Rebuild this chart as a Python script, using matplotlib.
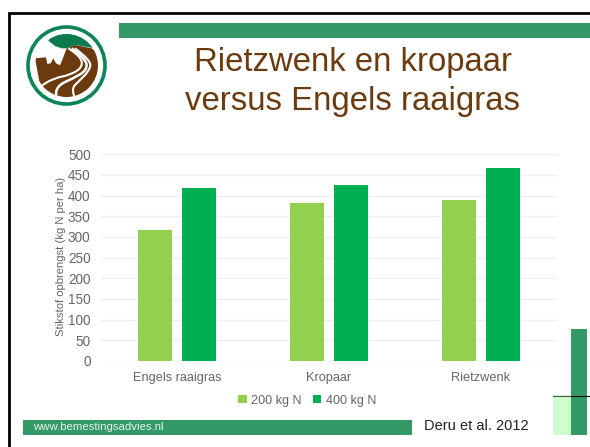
import numpy as np
import matplotlib
matplotlib.use("Agg")
import matplotlib.pyplot as plt
from matplotlib.patches import Circle, PathPatch, Polygon, Rectangle
from matplotlib.path import Path

W, H = 590, 447

categories = ["Engels raaigras", "Kropaar", "Rietzwenk"]
n200 = [318, 383, 390]
n400 = [418, 426, 468]
y_ticks = [0, 50, 100, 150, 200, 250, 300, 350, 400, 450, 500]
series_names = ["200 kg N", "400 kg N"]

plt.rcParams["font.family"] = ["Liberation Sans", "DejaVu Sans"]

LIGHT = "#92d050"
DARK = "#00b050"
BANNER = "#339966"
BROWN = "#6b3a0e"
GREY = "#666666"
LOGO_GREEN = "#0b8457"


def logo_xy(points):
    return [(px / 3 + 20, py / 3 + 20) for px, py in points]


def smooth_path(points):
    pts = logo_xy(points)
    verts = [pts[0]]
    codes = [Path.MOVETO]
    for i in range(1, len(pts) - 1):
        mid = ((pts[i][0] + pts[i + 1][0]) / 2, (pts[i][1] + pts[i + 1][1]) / 2)
        verts += [pts[i], mid]
        codes += [Path.CURVE3, Path.CURVE3]
    verts.append(pts[-1])
    codes.append(Path.LINETO)
    return Path(verts, codes)


fig = plt.figure(figsize=(W / 100, H / 100), dpi=100)

# slide background in pixel coordinates
bg = fig.add_axes([0, 0, 1, 1])
bg.set_xlim(0, W)
bg.set_ylim(H, 0)
bg.axis("off")
bg.add_patch(Rectangle((119, 23), 471, 15, color=BANNER, lw=0))
bg.add_patch(Rectangle((23, 420), 389, 15, color=BANNER, lw=0))
bg.add_patch(Rectangle((553, 395), 18, 40, color="#ccffcc", lw=0))
bg.add_patch(Rectangle((571, 329), 16, 106, color=BANNER, lw=0))
bg.plot([553, 571], [395.5, 395.5], color="#555555", lw=0.8)
bg.plot([571, 590], [395.5, 395.5], color="black", lw=0.8)
bg.plot([9, 9, 590], [447, 12.5, 12.5], color="black", lw=2, solid_joinstyle="miter")

# logo
bg.add_patch(Circle((66.5, 65.5), 38.5, fc="white", ec=LOGO_GREEN, lw=2.6))
disc = Circle((66.5, 65.5), 31.5, transform=bg.transData)
ground = Polygon(logo_xy([(45, 115), (78, 112), (82, 132), (92, 130), (100, 115), (108, 130),
                          (120, 136), (130, 112), (140, 85), (165, 75), (215, 85), (260, 120),
                          (260, 200), (220, 260), (125, 260), (80, 225), (60, 195)]),
                 fc=BROWN, lw=0)
bg.add_patch(ground)
ground.set_clip_path(disc)
cap = Polygon(logo_xy([(85, 62), (100, 30), (180, 30), (225, 85), (165, 75), (140, 85),
                       (125, 85), (105, 78)]), fc="#0b7a4f", lw=0)
bg.add_patch(cap)
cap.set_clip_path(disc)
road_lines = [
    ([(145, 85), (182, 108), (188, 142), (150, 165), (100, 175), (60, 200)], 1.5),
    ([(155, 85), (197, 115), (202, 150), (160, 175), (115, 195), (105, 225), (122, 245)], 1.8),
    ([(165, 85), (212, 120), (210, 150), (175, 185), (155, 205), (168, 245)], 1.5),
]
for pts, lw in road_lines:
    road = PathPatch(smooth_path(pts), fc="none", ec="white", lw=lw)
    bg.add_patch(road)
    road.set_clip_path(disc)

bg.text(352.5, 62.5, "Rietzwenk en kropaar", color=BROWN, fontsize=23.7, ha="center", va="center")
bg.text(352.5, 101.5, "versus Engels raaigras", color=BROWN, fontsize=23.7, ha="center", va="center")
bg.text(33, 426.5, "www.bemestingsadvies.nl", color="#e8f3ee", fontsize=8.2, va="center")
bg.text(424, 426, "Deru et al. 2012", color="#222222", fontsize=10.5, va="center")

# chart
left, right, top, bottom = 101, 557, 154.3, 361
ax = fig.add_axes([left / W, 1 - bottom / H, (right - left) / W, (bottom - top) / H])
ax.patch.set_alpha(0)
x = np.arange(len(categories))
width = 0.224
offset = 0.145
ax.bar(x - offset, n200, width, color=LIGHT, label=series_names[0], zorder=3)
ax.bar(x + offset, n400, width, color=DARK, label=series_names[1], zorder=3)
ax.set_xlim(-0.5, 2.5)
ax.set_ylim(0, 500)
ax.set_xticks(x)
ax.set_xticklabels(categories)
ax.set_yticks(y_ticks)
ax.tick_params(axis="x", length=0, labelsize=9.2, labelcolor=GREY, pad=8)
ax.tick_params(axis="y", length=0, labelsize=9.8, labelcolor=GREY, pad=7.5)
ax.grid(axis="y", color="#efefef", lw=0.9, zorder=0)
for s in ax.spines.values():
    s.set_visible(False)
ax.set_ylabel("Stikstof opbrengst (kg N per ha)", fontsize=8.1, color=GREY, va="center")
ax.yaxis.set_label_coords(-0.087, 0.505)
ax.legend(loc="upper center", bbox_to_anchor=(0.452, -0.108), ncol=2, frameon=False, fontsize=9.1,
          labelcolor=GREY, handlelength=0.65, handleheight=0.65, handletextpad=0.35, columnspacing=0.9)

fig.savefig("out.png", dpi=100)
